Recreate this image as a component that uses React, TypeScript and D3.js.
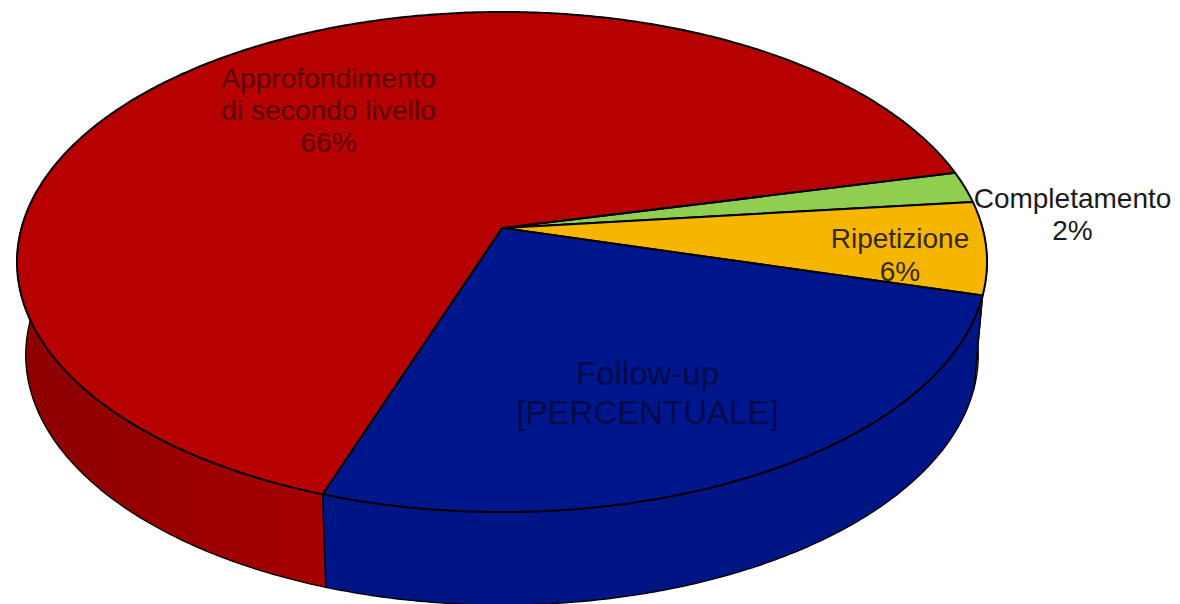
import React from "react";
import * as d3 from "d3";

// Share of each follow-up type, in drawing order clockwise from the right-hand side
const categories = ["Completamento", "Ripetizione", "Follow-up", "Approfondimento di secondo livello"];
const shares = [2, 6, 26, 66];
const topColors = ["#8fce4f", "#f6b600", "#00168c", "#b70000"];
const wallDark = ["#6f9f3d", "#c08e00", "#001480", "#8c0000"];
const wallLight = ["#6f9f3d", "#c08e00", "#001585", "#a60000"];

const labelLines = [
  { lines: ["Completamento", "2%"], x: 1072.5, y: 208, size: 28, gap: 32, fill: "#1a1a1a" },
  { lines: ["Ripetizione", "6%"], x: 900, y: 248, size: 28, gap: 32.5, fill: "#33290f" },
  { lines: ["Follow-up", "[PERCENTUALE]"], x: 647.5, y: 385, size: 33, gap: 39, fill: "#000a4a" },
  { lines: ["Approfondimento", "di secondo livello", "66%"], x: 328.5, y: 88, size: 28.2, gap: 32, fill: "#5a0000" },
];

const W = 1180;
const H = 604;
const HUB_X = 502;
const HUB_Y = 228;
const RADIUS_X = 480.5;
const RADIUS_Y = 245.4;
const TILT = -0.136;
const DEPTH = 93;
const FLOOR_SCALE = 0.982;
const START_ANGLE = (76.6 * Math.PI) / 180;

// Perspective projection of a disc: pie angle (0 at twelve o'clock, clockwise) to screen
function project(angle: number, floor = false): [number, number] {
  const u = Math.sin(angle);
  const v = -Math.cos(angle);
  const w = 1 + TILT * v;
  const x = (RADIUS_X * u) / w;
  const y = (RADIUS_Y * v) / w;
  return floor
    ? [HUB_X + x * FLOOR_SCALE, HUB_Y + y + DEPTH]
    : [HUB_X + x, HUB_Y + y];
}

function sampleArc(a0: number, a1: number, floor = false): [number, number][] {
  const n = Math.max(2, Math.ceil(Math.abs(a1 - a0) / 0.01));
  return d3.range(n + 1).map((i) => project(a0 + ((a1 - a0) * i) / n, floor));
}

const line = d3.line<[number, number]>();

const arcs = d3
  .pie<number>()
  .sort(null)
  .startAngle(START_ANGLE)
  .endAngle(START_ANGLE + 2 * Math.PI)(shares);

// The wall is only visible between the two silhouette tangents of the disc
const WALL_FROM = (87 * Math.PI) / 180;
const WALL_TO = (272 * Math.PI) / 180;

export default function App() {
  return (
    <svg
      width={W}
      height={H}
      viewBox={`0 0 ${W} ${H}`}
      style={{ position: "fixed", left: 0, top: 0, background: "#fff" }}
      fontFamily="'Liberation Sans', Arial, sans-serif"
    >
      <defs>
        {categories.map((_, i) => (
          <linearGradient key={i} id={`wall-${i}`} gradientUnits="userSpaceOnUse" x1={20} x2={320} y1={0} y2={0}>
            <stop offset="0" stopColor={wallDark[i]} />
            <stop offset="1" stopColor={wallLight[i]} />
          </linearGradient>
        ))}
      </defs>
      <g>
        {arcs.map((a, i) => {
          const a0 = Math.max(a.startAngle, WALL_FROM);
          const a1 = Math.min(a.endAngle, WALL_TO);
          if (a1 <= a0) return null;
          const outline = [...sampleArc(a0, a1), ...sampleArc(a1, a0, true)];
          return (
            <path
              key={i}
              d={line(outline) + "Z"}
              fill={`url(#wall-${i})`}
              stroke="#000"
              strokeWidth={1.3}
              strokeLinejoin="round"
            />
          );
        })}
      </g>
      <g>
        {arcs.map((a, i) => {
          const outline: [number, number][] = [[HUB_X, HUB_Y], ...sampleArc(a.startAngle, a.endAngle)];
          return (
            <path
              key={i}
              d={line(outline) + "Z"}
              fill={topColors[i]}
              stroke="#000"
              strokeWidth={2}
              strokeLinejoin="round"
            />
          );
        })}
      </g>
      <g textAnchor="middle">
        {labelLines.map((l, i) => (
          <text key={i} fontSize={l.size} fill={l.fill}>
            {l.lines.map((t, j) => (
              <tspan key={j} x={l.x} y={l.y + j * l.gap}>
                {t}
              </tspan>
            ))}
          </text>
        ))}
      </g>
    </svg>
  );
}
